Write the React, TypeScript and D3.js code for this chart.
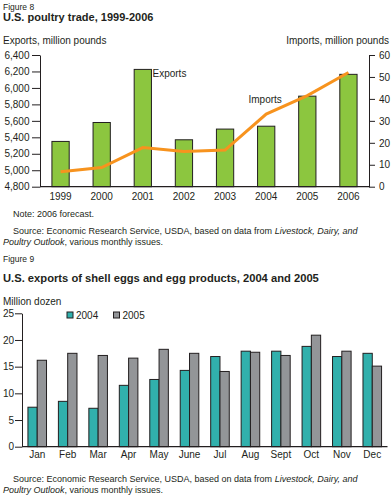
import React, { useEffect, useRef } from 'react';
import * as d3 from 'd3';

// Figure 8 data
const years = ['1999', '2000', '2001', '2002', '2003', '2004', '2005', '2006'];
const exportsMlb = [5350, 5580, 6225, 5370, 5500, 5535, 5900, 6165];
const importsMlb = [6.8, 8.7, 17.8, 16, 16.7, 33.1, 41.5, 52];
const exportTicks = [4800, 5000, 5200, 5400, 5600, 5800, 6000, 6200, 6400];
const importTicks = [0, 10, 20, 30, 40, 50, 60];

// Figure 9 data
const months = ['Jan', 'Feb', 'Mar', 'Apr', 'May', 'June', 'Jul', 'Aug', 'Sept', 'Oct', 'Nov', 'Dec'];
const eggs2004 = [7.4, 8.5, 7.2, 11.5, 12.6, 14.3, 16.9, 17.9, 17.9, 18.8, 16.9, 17.5];
const eggs2005 = [16.2, 17.5, 17.1, 16.6, 18.25, 17.5, 14.1, 17.7, 17.1, 20.9, 17.9, 15.1];
const eggTicks = [0, 5, 10, 15, 20, 25];
const eggSeries = ['2004', '2005'];

const FONT = '"Liberation Sans", Arial, Helvetica, sans-serif';
const INK = '#231f20';

const App = () => {
  const ref = useRef<SVGSVGElement | null>(null);

  useEffect(() => {
    const svg = d3.select(ref.current);
    svg.selectAll('*').remove();
    svg.style('font-family', FONT);

    const text = (x: number, y: number, s: string, size: number, opts: any = {}) =>
      svg.append('text')
        .attr('x', x).attr('y', y)
        .attr('font-size', size)
        .attr('font-weight', opts.bold ? 'bold' : 'normal')
        .attr('text-anchor', opts.anchor || 'start')
        .attr('fill', INK)
        .text(s);

    // --- Figure 8 ---
    text(3, 10, 'Figure 8', 8.5);
    text(3, 21, 'U.S. poultry trade, 1999-2006', 11, { bold: true });
    text(3, 43.5, 'Exports, million pounds', 10);
    text(389, 43.5, 'Imports, million pounds', 10, { anchor: 'end' });

    const x8 = d3.scaleBand().domain(years).range([40, 369]).paddingInner(0.58).paddingOuter(0.29);
    const yExp = d3.scaleLinear().domain([4800, 6400]).range([186.7, 55]);
    const yImp = d3.scaleLinear().domain([0, 60]).range([186.7, 55]);

    const leftAxis = svg.append('g')
      .attr('transform', 'translate(40,0)')
      .call(d3.axisLeft(yExp).tickValues(exportTicks).tickSize(8).tickSizeOuter(0).tickPadding(2.5).tickFormat(d3.format(',')));
    const rightAxis = svg.append('g')
      .attr('transform', 'translate(369,0)')
      .call(d3.axisRight(yImp).tickValues(importTicks).tickSize(6).tickSizeOuter(0).tickPadding(4));
    [leftAxis, rightAxis].forEach(g => {
      g.selectAll('text').attr('font-size', 10).attr('font-family', FONT).attr('fill', INK);
      g.selectAll('line,path').attr('stroke', INK).attr('stroke-width', 1);
    });

    svg.append('g').selectAll('rect')
      .data(exportsMlb)
      .enter().append('rect')
      .attr('x', (d, i) => x8(years[i])!)
      .attr('y', d => yExp(d))
      .attr('width', x8.bandwidth())
      .attr('height', d => yExp(4800) - yExp(d))
      .attr('fill', '#8cc63f')
      .attr('stroke', INK)
      .attr('stroke-width', 1);

    svg.append('line')
      .attr('x1', 40).attr('x2', 369)
      .attr('y1', yExp(4800)).attr('y2', yExp(4800))
      .attr('stroke', INK).attr('stroke-width', 1.2);

    const line = d3.line<number>()
      .x((d, i) => x8(years[i])! + x8.bandwidth() / 2)
      .y(d => yImp(d));
    svg.append('path')
      .datum(importsMlb)
      .attr('d', line)
      .attr('fill', 'none')
      .attr('stroke', '#f7931e')
      .attr('stroke-width', 3);

    years.forEach(yr => text(x8(yr)! + x8.bandwidth() / 2, 200, yr, 10, { anchor: 'middle' }));
    text(152.5, 77, 'Exports', 10);
    text(248.5, 102.5, 'Imports', 10);

    text(13, 216.5, 'Note: 2006 forecast.', 9);
    const src1 = (y: number) => {
      const t = svg.append('text').attr('x', 13).attr('y', y).attr('font-size', 9).attr('fill', INK);
      t.append('tspan').text('Source: Economic Research Service, USDA, based on data from ');
      t.append('tspan').attr('font-style', 'italic').text('Livestock, Dairy, and');
      const t2 = svg.append('text').attr('x', 3).attr('y', y + 11).attr('font-size', 9).attr('fill', INK);
      t2.append('tspan').attr('font-style', 'italic').text('Poultry Outlook');
      t2.append('tspan').text(', various monthly issues.');
    };
    src1(233.5);

    // --- Figure 9 ---
    text(3, 262, 'Figure 9', 8.5);
    text(3, 281.5, 'U.S. exports of shell eggs and egg products, 2004 and 2005', 11.2, { bold: true });
    text(3, 305, 'Million dozen', 10);

    const x9 = d3.scaleBand().domain(months).range([22, 387.5]).paddingInner(0.39).paddingOuter(0.195);
    const xs = d3.scaleBand().domain(eggSeries).range([0, x9.bandwidth()]);
    const y9 = d3.scaleLinear().domain([0, 25]).range([446.7, 313.3]);
    const color = d3.scaleOrdinal<string>().domain(eggSeries).range(['#31b0ac', '#939598']);

    const axis9 = svg.append('g')
      .attr('transform', 'translate(22,0)')
      .call(d3.axisLeft(y9).tickValues(eggTicks).tickSize(7).tickSizeOuter(0).tickPadding(1));
    axis9.selectAll('text').attr('font-size', 10).attr('font-family', FONT).attr('fill', INK);
    axis9.selectAll('line,path').attr('stroke', INK).attr('stroke-width', 1);

    const groups = svg.append('g').selectAll('g')
      .data(months)
      .enter().append('g')
      .attr('transform', m => `translate(${x9(m)},0)`);
    groups.selectAll('rect')
      .data((m, i) => [{ s: '2004', v: eggs2004[i] }, { s: '2005', v: eggs2005[i] }])
      .enter().append('rect')
      .attr('x', d => xs(d.s)!)
      .attr('y', d => y9(d.v))
      .attr('width', xs.bandwidth())
      .attr('height', d => y9(0) - y9(d.v))
      .attr('fill', d => color(d.s))
      .attr('stroke', INK)
      .attr('stroke-width', 1);

    svg.append('line')
      .attr('x1', 22).attr('x2', 387.5)
      .attr('y1', y9(0)).attr('y2', y9(0))
      .attr('stroke', INK).attr('stroke-width', 1.2);

    months.forEach(m => text(x9(m)! + x9.bandwidth() / 2, 458, m, 10, { anchor: 'middle' }));

    // legend
    eggSeries.forEach((s, i) => {
      const lx = 67 + i * 46.5;
      svg.append('rect')
        .attr('x', lx).attr('y', 312)
        .attr('width', 6).attr('height', 6)
        .attr('fill', color(s)).attr('stroke', INK).attr('stroke-width', 1);
      text(lx + 9, 318.5, s, 10);
    });

    src1(481.5);
  }, []);

  return (
    <svg
      ref={ref}
      width={392}
      height={497}
      style={{ position: 'absolute', left: 0, top: 0, background: '#fff' }}
    />
  );
};

export default App;
